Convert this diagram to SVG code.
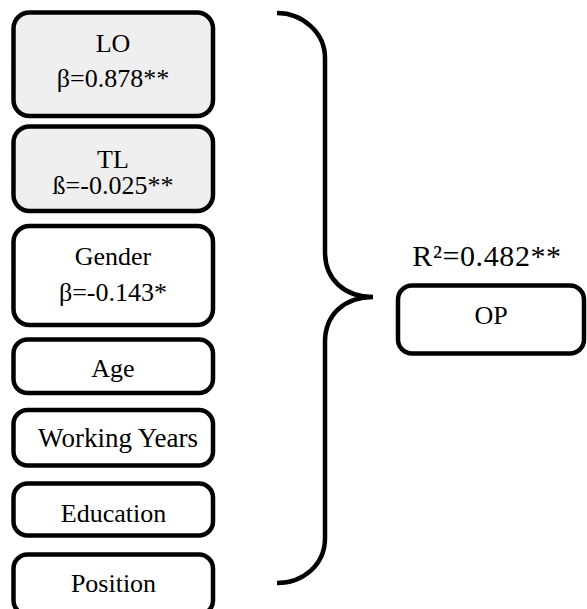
<svg xmlns="http://www.w3.org/2000/svg" width="587" height="609" viewBox="0 0 587 609">
  <style>
    .box { fill: #ffffff; stroke: #000000; stroke-width: 4.5; }
    .shaded { fill: #efefef; }
    text { font-family: 'Liberation Serif', 'Times New Roman', 'DejaVu Serif', serif; font-size: 26px; fill: #000000; text-anchor: middle; }
    .stat { font-size: 30px; letter-spacing: 0.6px; }
    .wide { font-size: 27px; }
    .brace { fill: none; stroke: #000000; stroke-width: 4.5; stroke-linecap: butt; }
  </style>
  <rect width="587" height="609" fill="#ffffff"/>

  <!-- predictors -->
  <g id="node-lo">
    <rect class="box shaded" x="13.5" y="12.5" width="199.5" height="103.5" rx="16"/>
    <text x="113" y="52">LO</text>
    <text x="113" y="87">β=0.878**</text>
  </g>
  <g id="node-tl">
    <rect class="box shaded" x="13.5" y="126.5" width="199.5" height="84.5" rx="16"/>
    <text x="113" y="167.5">TL</text>
    <text x="113" y="193.5">ß=-0.025**</text>
  </g>
  <g id="node-gender">
    <rect class="box" x="13.5" y="226" width="199.5" height="99" rx="16"/>
    <text x="113" y="265">Gender</text>
    <text x="113" y="300.5">β=-0.143*</text>
  </g>
  <g id="node-age">
    <rect class="box" x="13.5" y="339.5" width="199.5" height="53.5" rx="14"/>
    <text x="113" y="376.5">Age</text>
  </g>
  <g id="node-working-years">
    <rect class="box" x="13.5" y="410" width="199.5" height="55.5" rx="14"/>
    <text class="wide" x="118" y="446.5">Working Years</text>
  </g>
  <g id="node-education">
    <rect class="box" x="13.5" y="483.5" width="199.5" height="52" rx="14"/>
    <text x="113.5" y="521.5">Education</text>
  </g>
  <g id="node-position">
    <rect class="box" x="13.5" y="554.5" width="199.5" height="60" rx="14"/>
    <text x="113.5" y="591.5">Position</text>
  </g>

  <!-- outcome -->
  <g id="node-op">
    <text class="stat" x="487" y="266">R²=0.482**</text>
    <rect class="box" x="398" y="285.5" width="186" height="68" rx="14"/>
    <text x="491" y="324">OP</text>
  </g>

  <!-- curly brace grouping the predictors -->
  <g id="connectors">
    <path class="brace" d="M277,13 C303,13 325,33 325,58 V252 C325,280 345,297 373,297 C345,297 325,314 325,342 V538 C325,565 303,583 277,583"/>
  </g>
</svg>
